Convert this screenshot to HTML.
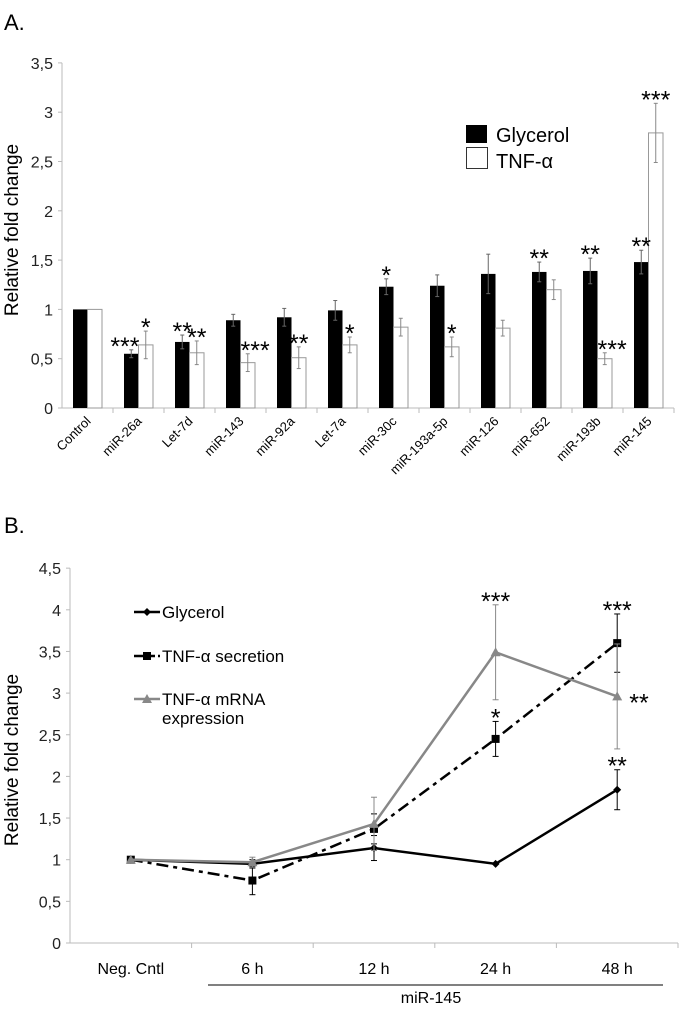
<!DOCTYPE html>
<html><head><meta charset="utf-8"><style>
body{margin:0;background:#fff;font-family:"Liberation Sans",sans-serif}
svg text{font-family:"Liberation Sans","DejaVu Sans",sans-serif}
</style></head><body>
<svg id="c" width="682" height="1009" xmlns="http://www.w3.org/2000/svg">
<text x="4" y="30" font-size="22">A.</text>
<text x="4" y="533" font-size="22">B.</text>
<g id="ga"></g><g id="gb"></g>
</svg>
<script>
const catsA=["Control","miR-26a","Let-7d","miR-143","miR-92a","Let-7a","miR-30c","miR-193a-5p","miR-126","miR-652","miR-193b","miR-145"];
const glyA=[1,0.55,0.67,0.89,0.92,0.99,1.23,1.24,1.36,1.38,1.39,1.48];
const glyErrA=[0,0.04,0.07,0.06,0.09,0.1,0.08,0.11,0.2,0.1,0.13,0.12];
const tnfA=[1,0.64,0.56,0.46,0.51,0.64,0.82,0.62,0.81,1.2,0.5,2.79];
const tnfErrA=[0,0.14,0.12,0.09,0.11,0.08,0.09,0.1,0.08,0.1,0.06,0.3];
const glyStarsA=["","***","**","","","","*","","","**","**","**"];
const tnfStarsA=["","*","**","***","**","*","","*","","","***","***"];
const ticksA=["0","0,5","1","1,5","2","2,5","3","3,5"];
const catsB=["Neg. Cntl","6 h","12 h","24 h","48 h"];
const glyB=[1,0.95,1.14,0.95,1.84];
const glyErrB=[0,0.05,0.15,0,0.24];
const secB=[1,0.75,1.37,2.45,3.6];
const secErrB=[0,0.17,0.18,0.21,0.35];
const mrnaB=[1,0.97,1.43,3.49,2.96];
const mrnaErrB=[0,0.06,0.32,0.57,0.63];
const ticksB=["0","0,5","1","1,5","2","2,5","3","3,5","4","4,5"];
const NS="http://www.w3.org/2000/svg";
function mk(p,t,a,txt){const e=document.createElementNS(NS,t);for(const k in a)e.setAttribute(k,a[k]);if(txt!==undefined)e.textContent=txt;p.appendChild(e);return e;}
const STAR=25;
// Panel A
const ga=document.getElementById('ga');
const ax0=62,ax1=674,ay0=408,ayPer=98.6;
const yA=v=>ay0-v*ayPer;
const cw=(ax1-ax0)/catsA.length;
const xA=i=>ax0+cw*i+cw/2;
let e=mk(ga,'line',{x1:ax0,y1:yA(3.5),x2:ax0,y2:ay0,stroke:'#bbb'});

e=mk(ga,'line',{x1:ax0,y1:ay0,x2:ax1,y2:ay0,stroke:'#bbb'});

ticksA.forEach((t,i)=>{const y=yA(i*0.5);
 mk(ga,'line',{x1:ax0-4,y1:y,x2:ax0,y2:y,stroke:'#bbb'});
 e=mk(ga,'text',{x:ax0-9,y:y+6,'text-anchor':'end','font-size':16,fill:'#222'},t);
 });
e=mk(ga,'text',{x:18,y:230,'text-anchor':'middle','font-size':19,transform:'rotate(-90 18 230)'},'Relative fold change');

catsA.forEach((c,i)=>{const cx=xA(i);
 mk(ga,'line',{x1:ax0+cw*(i+1),y1:ay0,x2:ax0+cw*(i+1),y2:ay0+5,stroke:'#bbb'});
 const bw=14.5;
 e=mk(ga,'rect',{x:cx-bw,y:yA(glyA[i]),width:bw,height:glyA[i]*ayPer,fill:'#000'});
 
 e=mk(ga,'rect',{x:cx,y:yA(tnfA[i]),width:bw,height:tnfA[i]*ayPer,fill:'#fff',stroke:'#999','stroke-width':1});
 
 [[cx-bw/2,glyA[i],glyErrA[i],'#666'],[cx+bw/2,tnfA[i],tnfErrA[i],'#888']].forEach(([x,v,er,col])=>{if(er>0){
  mk(ga,'line',{x1:x,y1:yA(v+er),x2:x,y2:yA(v-er),stroke:col,'stroke-width':1});
  mk(ga,'line',{x1:x-2,y1:yA(v+er),x2:x+2,y2:yA(v+er),stroke:col});
  mk(ga,'line',{x1:x-2,y1:yA(v-er),x2:x+2,y2:yA(v-er),stroke:col});}});
 if(glyStarsA[i]){const t=glyStarsA[i];
  const a={x:cx-bw/2,y:yA(glyA[i]+glyErrA[i])+5,'text-anchor':'middle','font-size':STAR};
  if(t==='***'){a.x=cx+1;a['text-anchor']='end';}
  e=mk(ga,'text',a,t);
  }
 if(tnfStarsA[i]){const t=tnfStarsA[i];
  const a={x:cx+bw/2,y:yA(tnfA[i]+tnfErrA[i])+5,'text-anchor':'middle','font-size':STAR};
  if(t==='***'&&i!==11){a.x=cx;a['text-anchor']='start';}
  e=mk(ga,'text',a,t);
  }
 e=mk(ga,'text',{x:cx+4,y:ay0+14,'text-anchor':'end','font-size':13,transform:`rotate(-45 ${cx+4} ${ay0+14})`},c);
 });
e=mk(ga,'rect',{x:466,y:125,width:21,height:18,fill:'#000'});
e=mk(ga,'text',{x:496,y:142,'font-size':20},'Glycerol');
e=mk(ga,'rect',{x:466.5,y:147.5,width:21,height:21,fill:'#fff',stroke:'#333'});
e=mk(ga,'text',{x:496,y:168,'font-size':20},'TNF-α');
// Panel B
const gb=document.getElementById('gb');
const bx0=70,bx1=678,by0=943,byPer=83.3;
const yB=v=>by0-v*byPer;
const bw2=(bx1-bx0)/catsB.length;
const xB=i=>bx0+bw2*i+bw2/2;
e=mk(gb,'line',{x1:bx0,y1:yB(4.5),x2:bx0,y2:by0,stroke:'#bbb'});
e=mk(gb,'line',{x1:bx0,y1:by0,x2:bx1,y2:by0,stroke:'#bbb'});
ticksB.forEach((t,i)=>{const y=yB(i*0.5);
 mk(gb,'line',{x1:bx0-4,y1:y,x2:bx0,y2:y,stroke:'#bbb'});
 e=mk(gb,'text',{x:bx0-9,y:y+6,'text-anchor':'end','font-size':16,fill:'#222'},t);
 });
e=mk(gb,'text',{x:18,y:760,'text-anchor':'middle','font-size':19,transform:'rotate(-90 18 760)'},'Relative fold change');

catsB.forEach((c,i)=>{mk(gb,'line',{x1:bx0+bw2*(i+1),y1:by0,x2:bx0+bw2*(i+1),y2:by0+5,stroke:'#bbb'});
 e=mk(gb,'text',{x:xB(i),y:974,'text-anchor':'middle','font-size':16},c);});
e=mk(gb,'line',{x1:208,y1:985,x2:663,y2:985,stroke:'#000'});
e=mk(gb,'text',{x:431,y:1003,'text-anchor':'middle','font-size':16},'miR-145');
function series(vals,errs,col,dash,marker,name){
 errs.forEach((er,i)=>{if(er>0){const x=xB(i);
  mk(gb,'line',{x1:x,y1:yB(vals[i]+er),x2:x,y2:yB(vals[i]-er),stroke:col});
  mk(gb,'line',{x1:x-3,y1:yB(vals[i]+er),x2:x+3,y2:yB(vals[i]+er),stroke:col});
  mk(gb,'line',{x1:x-3,y1:yB(vals[i]-er),x2:x+3,y2:yB(vals[i]-er),stroke:col});}});
 const pts=vals.map((v,i)=>xB(i)+','+yB(v)).join(' ');
 const a={points:pts,fill:'none',stroke:col,'stroke-width':2.5};if(dash)a['stroke-dasharray']=dash;
 let l=mk(gb,'polyline',a);
 vals.forEach((v,i)=>{const x=xB(i),y=yB(v);let m;
  if(marker==='d')m=mk(gb,'polygon',{points:`${x},${y-4} ${x+4},${y} ${x},${y+4} ${x-4},${y}`,fill:col});
  else if(marker==='s')m=mk(gb,'rect',{x:x-4,y:y-4,width:8,height:8,fill:col});
  else m=mk(gb,'polygon',{points:`${x},${y-5} ${x+5},${y+4} ${x-5},${y+4}`,fill:col});
  });}
series(glyB,glyErrB,'#000',null,'d','glycerol');
series(secB,secErrB,'#000','12,5,4,5','s','tnf-secretion');
series(mrnaB,mrnaErrB,'#888',null,'t','tnf-mrna');
[[xB(3),yB(mrnaB[3]+mrnaErrB[3])+5,'***'],[xB(4),yB(secB[4]+secErrB[4])+5,'***'],[639,yB(mrnaB[4])+15,'**'],[xB(3),yB(secB[3]+secErrB[3])+5,'*'],[xB(4),yB(glyB[4]+glyErrB[4])+5,'**']].forEach(([x,y,t])=>{
 e=mk(gb,'text',{x:x,y:y,'text-anchor':'middle','font-size':STAR},t);});
function leg(y,col,dash,marker,label,label2){
 const a={x1:134,y1:y,x2:160,y2:y,stroke:col,'stroke-width':2.5};if(dash)a['stroke-dasharray']=dash;mk(gb,'line',a);
 if(marker==='d')mk(gb,'polygon',{points:`147,${y-4} 151,${y} 147,${y+4} 143,${y}`,fill:col});
 else if(marker==='s')mk(gb,'rect',{x:143,y:y-4,width:8,height:8,fill:col});
 else mk(gb,'polygon',{points:`147,${y-5} 152,${y+4} 142,${y+4}`,fill:col});
 let t=mk(gb,'text',{x:162,y:y+6,'font-size':17},label);
 if(label2){t=mk(gb,'text',{x:162,y:y+25,'font-size':17},label2);}}
leg(612,'#000',null,'d','Glycerol');
leg(656,'#000','9,3','s','TNF-α secretion');
leg(699,'#888',null,'t','TNF-α mRNA','expression');
</script>
</body></html>
